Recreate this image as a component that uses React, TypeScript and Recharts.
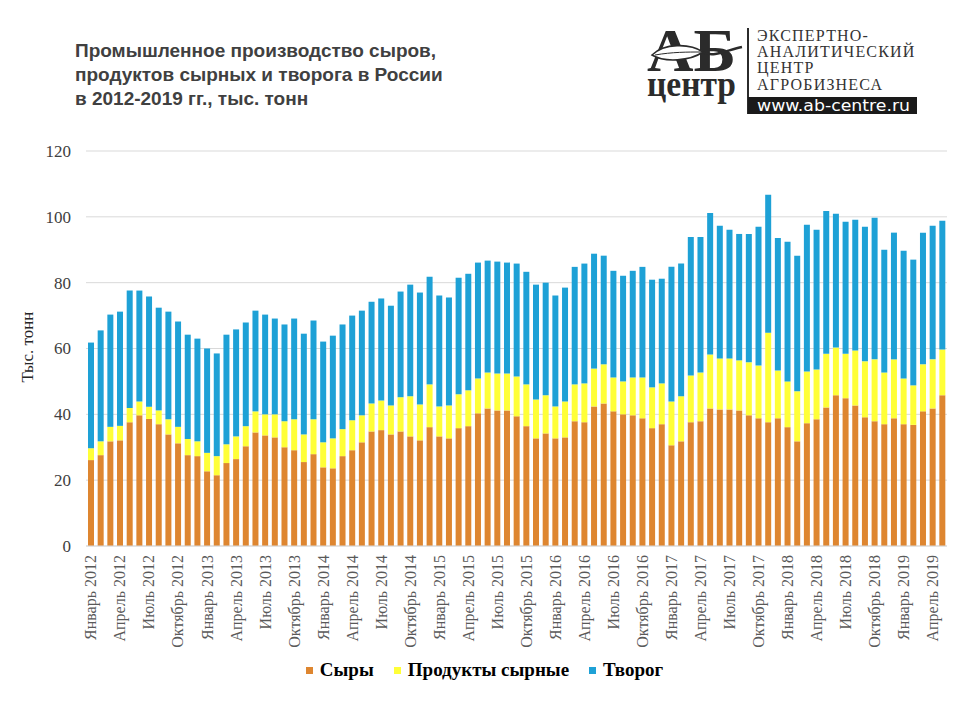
import { BarChart, Bar, XAxis, YAxis, CartesianGrid } from 'recharts';

const monthNames = ['Январь', 'Февраль', 'Март', 'Апрель', 'Май', 'Июнь', 'Июль', 'Август', 'Сентябрь', 'Октябрь', 'Ноябрь', 'Декабрь'];
const years = [2012, 2013, 2014, 2015, 2016, 2017, 2018, 2019];
// январь 2012 - май 2019
const months = years.flatMap((y) => monthNames.map((m) => `${m} ${y}`)).slice(0, 89);

const cheese = [
  26.1, 27.6, 31.8, 32.1, 37.6, 39.7, 38.6, 37.0, 33.9, 31.2, 27.6, 27.3,
  22.7, 21.5, 25.2, 26.4, 30.3, 34.5, 33.6, 33.0, 30.0, 29.1, 25.5, 27.9,
  23.9, 23.6, 27.3, 29.1, 31.5, 34.8, 35.2, 33.9, 34.8, 33.3, 32.1, 36.1,
  33.3, 32.7, 35.8, 36.4, 40.3, 41.8, 41.2, 41.2, 39.4, 36.4, 32.7, 34.2,
  32.7, 33.0, 37.9, 37.6, 42.4, 43.3, 40.9, 40.0, 39.7, 38.8, 35.8, 37.0,
  30.6, 31.8, 37.6, 37.9, 41.8, 41.5, 41.5, 41.2, 39.7, 38.8, 37.6, 38.8,
  36.1, 31.8, 37.3, 38.5, 42.1, 45.8, 44.9, 42.7, 39.1, 37.9, 37.0, 38.8,
  37.0, 36.8, 40.9, 41.8, 45.8,
];
const cheeseProducts = [
  3.6, 4.2, 4.4, 4.4, 4.3, 4.2, 3.7, 4.2, 4.6, 5.0, 4.9, 4.5,
  5.6, 5.8, 5.7, 6.9, 6.1, 6.4, 6.4, 7.0, 7.9, 9.4, 8.4, 10.6,
  7.6, 9.1, 8.2, 9.1, 8.2, 8.5, 9.0, 8.8, 10.4, 12.2, 10.9, 13.0,
  9.1, 10.0, 10.3, 10.9, 10.6, 10.9, 11.2, 11.2, 12.1, 12.7, 11.8, 11.6,
  9.7, 10.9, 11.2, 11.8, 11.5, 11.9, 10.3, 10.0, 11.5, 12.4, 12.4, 12.4,
  13.3, 13.7, 14.2, 14.8, 16.4, 15.5, 15.5, 15.2, 16.1, 16.0, 27.2, 14.5,
  13.9, 15.2, 15.7, 15.1, 16.3, 14.5, 13.5, 16.7, 17.0, 18.8, 15.7, 17.9,
  13.9, 12.0, 14.3, 14.9, 13.9,
];
const tvorog = [
  32.1, 33.7, 34.1, 34.7, 35.7, 33.7, 33.5, 31.2, 32.7, 32.0, 31.7, 31.2,
  31.7, 31.2, 33.3, 32.5, 31.5, 30.6, 30.3, 29.1, 29.4, 30.6, 30.6, 30.0,
  30.6, 31.2, 31.8, 31.8, 31.8, 30.9, 31.0, 30.3, 32.1, 33.9, 34.0, 32.7,
  33.7, 32.8, 35.4, 35.4, 35.2, 34.0, 34.0, 33.7, 34.3, 34.2, 34.9, 34.2,
  33.7, 34.6, 35.7, 36.4, 34.9, 33.0, 32.4, 32.1, 32.4, 33.6, 32.7, 31.8,
  40.9, 40.3, 42.1, 41.2, 43.0, 40.3, 39.1, 38.4, 39.0, 42.2, 41.9, 40.3,
  42.4, 41.2, 44.6, 42.5, 43.4, 40.6, 40.1, 39.7, 40.9, 43.0, 37.3, 38.5,
  38.8, 38.2, 40.0, 40.6, 39.1,
];
const yTicks = [0, 20, 40, 60, 80, 100, 120];

const data = months.map((month, i) => ({
  month,
  cheese: cheese[i],
  cheeseProducts: cheeseProducts[i],
  tvorog: tvorog[i],
}));

const ORANGE = '#DE8630';
const YELLOW = '#FFFF38';
const BLUE = '#1EA1D6';
const SERIF = 'Liberation Serif';
const SANS = 'Liberation Sans';

const MonthTick = (props: any) => {
  const { x, y, payload } = props;
  return (
    <text
      x={x}
      y={y}
      transform={`rotate(-90 ${x} ${y})`}
      textAnchor="end"
      dx={-9}
      dy="0.35em"
      fontFamily={SERIF}
      fontSize={16}
      fill="#595959"
    >
      {payload.value}
    </text>
  );
};

const ValueTick = (props: any) => {
  const { x, y, payload } = props;
  return (
    <text x={x} y={y} textAnchor="end" dy="0.35em" fontFamily={SERIF} fontSize={17} fill="#404040">
      {payload.value}
    </text>
  );
};

const legendItems = [
  { name: 'Сыры', color: ORANGE },
  { name: 'Продукты сырные', color: YELLOW },
  { name: 'Творог', color: BLUE },
];

export default function App() {
  return (
    <div style={{ position: 'absolute', left: 0, top: 0, width: 960, height: 720, background: '#fff' }}>
      <BarChart
        width={960}
        height={720}
        data={data}
        margin={{ top: 151, right: 13, bottom: 74, left: 26 }}
        style={{ position: 'absolute', left: 0, top: 0 }}
      >
        <CartesianGrid vertical={false} stroke="#d9d9d9" />
        <XAxis
          dataKey="month"
          interval={2}
          height={100}
          tickSize={0}
          tickMargin={0}
          axisLine={{ stroke: '#d9d9d9' }}
          tick={<MonthTick />}
        />
        <YAxis
          width={60}
          domain={[0, 120]}
          ticks={yTicks}
          axisLine={false}
          tickLine={false}
          tickSize={0}
          tickMargin={15}
          tick={<ValueTick />}
        />
        <Bar dataKey="cheese" stackId="a" fill={ORANGE} barSize={6} isAnimationActive={false} />
        <Bar dataKey="cheeseProducts" stackId="a" fill={YELLOW} barSize={6} isAnimationActive={false} />
        <Bar dataKey="tvorog" stackId="a" fill={BLUE} barSize={6} isAnimationActive={false} />
      </BarChart>

      <svg width={960} height={720} style={{ position: 'absolute', left: 0, top: 0, pointerEvents: 'none' }}>
        {/* заголовок */}
        <g fontFamily={SANS} fontWeight="bold" fontSize={19} fill="#404040">
          <text x={75} y={57}>Промышленное производство сыров,</text>
          <text x={75} y={81}>продуктов сырных и творога в России</text>
          <text x={75} y={105}>в 2012-2019 гг., тыс. тонн</text>
        </g>

        <text
          transform="translate(33 347) rotate(-90)"
          textAnchor="middle"
          fontFamily={SERIF}
          fontSize={17}
          fill="#262626"
        >
          Тыс. тонн
        </text>

        {/* логотип */}
        <g fill="#2b2b2b">
          <text fontFamily={SERIF} fontWeight="bold">
            <tspan x={647} y={71} fontSize={62} textLength={89} lengthAdjust="spacingAndGlyphs">АБ</tspan>
            <tspan x={647} y={96} fontSize={36} textLength={89} lengthAdjust="spacingAndGlyphs">центр</tspan>
          </text>
          <path d="M652 55 C664 43 690 43 703 52 C690 61 665 63 652 55 Z" fill="#fff" stroke="#2b2b2b" strokeWidth={1.6} />
          <path d="M655 55 C672 52 688 52 701 52" fill="none" stroke="#2b2b2b" strokeWidth={1} />
          <path d="M702 52 C714 58 727 50 742 47" fill="none" stroke="#2b2b2b" strokeWidth={2.5} />
          <rect x={747} y={28} width={2} height={86} />
          <g fontFamily={SERIF} fontSize={16} letterSpacing={1.2} fill="#333">
            <text x={757} y={41}>ЭКСПЕРТНО-</text>
            <text x={757} y={57}>АНАЛИТИЧЕСКИЙ</text>
            <text x={757} y={73}>ЦЕНТР</text>
            <text x={757} y={90}>АГРОБИЗНЕСА</text>
          </g>
          <rect x={748} y={97} width={169} height={17} fill="#1a1a1a" />
          <text x={757} y={111} fontFamily="DejaVu Sans" fontSize={15} fill="#fff" textLength={153} lengthAdjust="spacingAndGlyphs">
            www.ab-centre.ru
          </text>
        </g>
      </svg>

      <div
        style={{
          position: 'absolute',
          left: 0,
          top: 659,
          width: 960,
          paddingLeft: 9,
          boxSizing: 'border-box',
          display: 'flex',
          justifyContent: 'center',
          alignItems: 'center',
          fontFamily: SERIF,
          fontWeight: 'bold',
          fontSize: 19,
          color: '#000',
        }}
      >
        {legendItems.map((it, i) => (
          <div key={it.name} style={{ display: 'flex', alignItems: 'center', marginLeft: i === 0 ? 0 : 20 }}>
            <span style={{ display: 'inline-block', width: 7, height: 7, background: it.color, marginRight: 7 }} />
            <span>{it.name}</span>
          </div>
        ))}
      </div>
    </div>
  );
}
